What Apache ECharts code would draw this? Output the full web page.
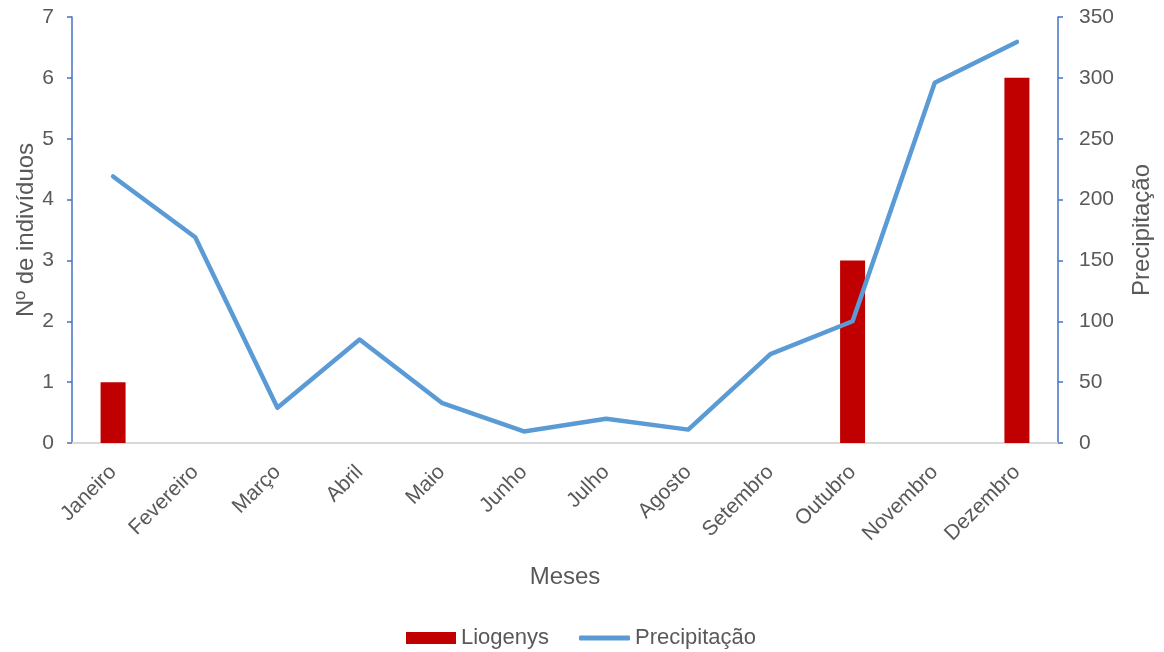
<!DOCTYPE html>
<html>
<head>
<meta charset="utf-8">
<script src="https://cdn.jsdelivr.net/npm/echarts@6/dist/echarts.min.js"></script>
<style>
  html, body { margin: 0; padding: 0; background: #fff; }
  #chart { width: 1164px; height: 652px; }
</style>
</head>
<body>
<div id="chart"></div>
<script>
// Months on the category axis
const meses = ['Janeiro', 'Fevereiro', 'Março', 'Abril', 'Maio', 'Junho', 'Julho',
  'Agosto', 'Setembro', 'Outubro', 'Novembro', 'Dezembro'];
// Number of Liogenys individuals per month
const liogenys = [1, 0, 0, 0, 0, 0, 0, 0, 0, 3, 0, 6];
// Monthly precipitation
const precipitacao = [219, 169, 29, 85, 33, 9.5, 20, 11, 73, 100, 296, 329.5];

const textColor = '#595959';
const fontFamily = '"Liberation Sans", Arial, sans-serif';

const chart = echarts.init(document.getElementById('chart'), null, { renderer: 'canvas' });
chart.setOption({
  animation: false,
  textStyle: { fontFamily: fontFamily, color: textColor },
  grid: { left: 72, right: 106, top: 17, bottom: 209, containLabel: false },
  // Two legends so each key can have its own swatch height
  legend: [
    {
      left: 401,
      top: 622,
      itemWidth: 50,
      itemHeight: 12,
      textStyle: { fontSize: 22, color: textColor, fontFamily: fontFamily },
      data: [{ name: 'Liogenys', icon: 'rect' }]
    },
    {
      left: 574,
      top: 622,
      itemWidth: 51,
      itemHeight: 5,
      textStyle: { fontSize: 22, color: textColor, fontFamily: fontFamily },
      data: [{ name: 'Precipitação', icon: 'roundRect' }]
    }
  ],
  xAxis: {
    type: 'category',
    data: meses,
    name: 'Meses',
    nameLocation: 'middle',
    nameGap: 122,
    nameMoveOverlap: false,
    nameTextStyle: { fontSize: 24, color: textColor },
    axisLine: { lineStyle: { color: '#d9d9d9', width: 2 } },
    axisTick: { show: false },
    axisLabel: { rotate: 45, fontSize: 21, color: textColor, margin: 26, interval: 0 }
  },
  yAxis: [
    {
      type: 'value',
      min: 0, max: 7, interval: 1,
      name: 'Nº de indivíduos',
      nameLocation: 'middle',
      nameRotate: 90,
      nameGap: 34,
      nameMoveOverlap: false,
      nameTextStyle: { fontSize: 24, color: textColor },
      axisLine: { show: true, lineStyle: { color: '#4472C4', width: 1.5 } },
      axisTick: { show: true, length: 5, lineStyle: { color: '#4472C4', width: 1.5 } },
      axisLabel: { fontSize: 21, color: textColor, margin: 18 },
      splitLine: { show: false }
    },
    {
      type: 'value',
      min: 0, max: 350, interval: 50,
      name: 'Precipitação',
      nameLocation: 'middle',
      nameRotate: 90,
      nameGap: 72,
      nameMoveOverlap: false,
      nameTextStyle: { fontSize: 24, color: textColor },
      axisLine: { show: true, lineStyle: { color: '#4472C4', width: 1.5 } },
      axisTick: { show: true, length: 5, lineStyle: { color: '#4472C4', width: 1.5 } },
      axisLabel: { fontSize: 21, color: textColor, margin: 21 },
      splitLine: { show: false }
    }
  ],
  series: [
    {
      name: 'Liogenys',
      type: 'bar',
      yAxisIndex: 0,
      data: liogenys,
      barWidth: 25,
      itemStyle: { color: '#C00000' }
    },
    {
      name: 'Precipitação',
      type: 'line',
      yAxisIndex: 1,
      data: precipitacao,
      symbol: 'none',
      lineStyle: { color: '#5B9BD5', width: 4.5, cap: 'round', join: 'round' },
      itemStyle: { color: '#5B9BD5' }
    }
  ]
});
</script>
</body>
</html>
